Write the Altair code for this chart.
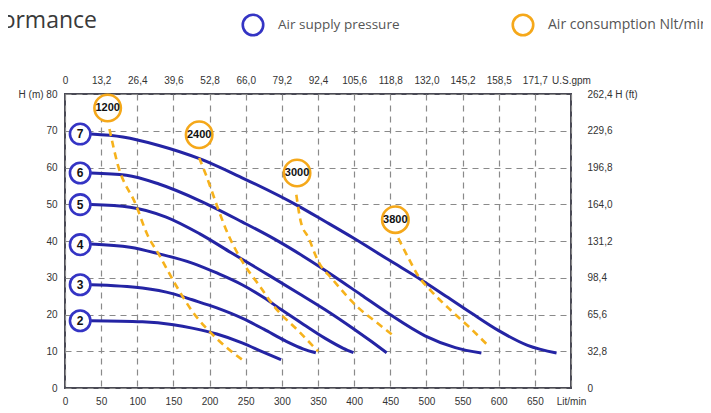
import json
import altair as alt
import pandas as pd

# ---------------- data ----------------
# Air supply pressure curves (bar): flow in Lit/min, head in m
c7_x = [36, 80, 130, 186, 245, 323, 360, 399, 450, 493, 530, 562, 600, 640, 680]
c7_h = [69.1, 68.3, 66.0, 62.4, 57.2, 49.5, 45.3, 40.8, 34.6, 29.4, 24.6, 20.4, 15.6, 11.6, 9.5]
c6_x = [36, 85, 130, 186, 245, 290, 330, 373, 410, 448, 498, 540, 576]
c6_h = [58.5, 57.9, 55.5, 51.0, 45.2, 40.5, 35.8, 30.3, 25.3, 20.2, 14.2, 11.0, 9.5]
c5_x = [36, 90, 140, 186, 230, 275, 323, 360, 400, 425, 445]
c5_h = [49.9, 49.2, 46.5, 42.0, 36.8, 31.5, 25.8, 21.3, 16.0, 12.5, 9.6]
c4_x = [36, 90, 130, 176, 210, 245, 275, 300, 330, 360, 385, 399]
c4_h = [39.2, 38.3, 36.5, 34.0, 31.3, 28.1, 24.6, 21.2, 17.3, 13.5, 10.8, 9.6]
c3_x = [36, 107, 150, 176, 210, 245, 275, 305, 330, 347]
c3_h = [28.1, 27.2, 25.6, 24.0, 21.8, 19.0, 16.0, 12.8, 10.6, 9.6]
c2_x = [36, 107, 150, 176, 210, 245, 275, 299]
c2_h = [18.3, 18.0, 17.2, 16.3, 14.7, 12.3, 9.7, 7.7]

press_labels = ["7", "6", "5", "4", "3", "2"]
press_x = [21, 21, 21, 21, 21, 21]
press_h = [69.1, 58.5, 49.9, 39.0, 28.1, 18.3]

# Air consumption iso-lines (Nlt/min)
a1200_x = [61.5, 73, 98, 114, 130, 153, 176, 209, 248]
a1200_h = [70.5, 60.8, 49.9, 41.7, 36.3, 28.1, 20.9, 13.6, 7.3]
a2400_x = [185.6, 195, 213, 222, 245, 268, 291, 323.5, 350]
a2400_h = [62.6, 58.0, 48.1, 43.5, 34.5, 28.1, 21.8, 15.4, 10.0]
a3000_x = [320, 326, 337, 351, 369.5, 406, 430, 452]
a3000_h = [52.6, 45.4, 40.8, 34.2, 29.7, 21.8, 18.0, 14.6]
a3800_x = [461, 475, 489, 507, 535, 558, 585]
a3800_h = [40.8, 35.4, 30.4, 26.3, 20.9, 16.8, 11.6]

air_labels = ["1200", "2400", "3000", "3800"]
air_x = [59, 185.6, 321, 457]
air_h = [76.2, 68.9, 58.5, 45.8]

# axis labels
x_ticks = [0, 50, 100, 150, 200, 250, 300, 350, 400, 450, 500, 550, 600, 650, 700]
x_labels = ["0", "50", "100", "150", "200", "250", "300", "350", "400", "450",
            "500", "550", "600", "650", "Lit/min"]
gpm_labels = ["0", "13,2", "26,4", "39,6", "52,8", "66,0", "79,2", "92,4", "105,6",
              "118,8", "132,0", "145,2", "158,5", "171,7", "U.S.gpm"]
y_ticks = [0, 10, 20, 30, 40, 50, 60, 70, 80]
m_labels = ["0", "10", "20", "30", "40", "50", "60", "70", "H (m) 80"]
ft_labels = ["0", "32,8", "65,6", "98,4", "131,2", "164,0", "196,8", "229,6", "262,4 H (ft)"]

# ---------------- tables ----------------
curves = {"7": (c7_x, c7_h), "6": (c6_x, c6_h), "5": (c5_x, c5_h),
          "4": (c4_x, c4_h), "3": (c3_x, c3_h), "2": (c2_x, c2_h)}
curve_df = pd.DataFrame([{"bar": k, "X": x, "H": h}
                         for k, (xs_, hs) in curves.items() for x, h in zip(xs_, hs)])
airs = {"1200": (a1200_x, a1200_h), "2400": (a2400_x, a2400_h),
        "3000": (a3000_x, a3000_h), "3800": (a3800_x, a3800_h)}
air_df = pd.DataFrame([{"air": k, "X": x, "H": h}
                       for k, (xs_, hs) in airs.items() for x, h in zip(xs_, hs)])
press_df = pd.DataFrame({"lab": press_labels, "X": press_x, "H": press_h})
bub_df = pd.DataFrame({"lab": air_labels, "X": air_x, "H": air_h})
one = pd.DataFrame({"a": [0]})

BLUE = "#2424a4"
BLUE_C = "#3434c4"
ORANGE = "#f6b21c"
ORANGE_C = "#f5a81a"
FONT = "Liberation Sans"

xs = alt.Scale(domain=[0, 700], nice=False, zero=True)
ys = alt.Scale(domain=[0, 80], nice=False, zero=True)

def lab_expr(labels, step):
    return json.dumps(labels) + "[round(datum.value/" + str(step) + ")]"

common_axis = dict(ticks=False, tickSize=0, domain=False, labelFont=FONT,
                   labelFontSize=10, labelColor="#333", title=None)

bottom_axis = alt.Axis(orient="bottom", values=x_ticks, labelExpr=lab_expr(x_labels, 50),
                       grid=True, gridDash=[6, 5], gridColor="#8a8a8a", gridWidth=1.2,
                       labelPadding=8, labelFlush=False, **common_axis)
left_axis = alt.Axis(orient="left", values=y_ticks, labelExpr=lab_expr(m_labels, 10),
                     grid=True, gridDash=[6, 5], gridColor="#8a8a8a", gridWidth=1.2,
                     labelPadding=8, labelFlush=False, **common_axis)
top_axis = alt.Axis(orient="top", values=x_ticks, labelExpr=lab_expr(gpm_labels, 50),
                    grid=False, labelPadding=9, labelFlush=False, **common_axis)
right_axis = alt.Axis(orient="right", values=y_ticks, labelExpr=lab_expr(ft_labels, 10),
                      grid=False, labelPadding=16, labelFlush=False, labelAlign="left",
                      **common_axis)

blue_lines = alt.Chart(curve_df).mark_line(
    color=BLUE, strokeWidth=3, interpolate="monotone"
).encode(
    x=alt.X("X:Q", scale=xs, axis=bottom_axis),
    y=alt.Y("H:Q", scale=ys, axis=left_axis),
    detail="bar:N",
)

axes2 = alt.Chart(curve_df).mark_point(opacity=0).encode(
    x=alt.X("X:Q", scale=xs, axis=top_axis),
    y=alt.Y("H:Q", scale=ys, axis=right_axis),
)

orange_lines = alt.Chart(air_df).mark_line(
    color=ORANGE, strokeWidth=2.6, strokeDash=[7, 5], interpolate="monotone"
).encode(
    x=alt.X("X:Q", scale=xs, axis=None),
    y=alt.Y("H:Q", scale=ys, axis=None),
    detail="air:N",
)

press_circles = alt.Chart(press_df).mark_point(
    shape="circle", filled=True, fill="white", stroke=BLUE_C, strokeWidth=2.6,
    size=420, opacity=1
).encode(x=alt.X("X:Q", scale=xs, axis=None), y=alt.Y("H:Q", scale=ys, axis=None))

press_text = alt.Chart(press_df).mark_text(
    font=FONT, fontSize=12, fontWeight="bold", color="#111"
).encode(x=alt.X("X:Q", scale=xs, axis=None), y=alt.Y("H:Q", scale=ys, axis=None),
         text="lab:N")

bub_circles = alt.Chart(bub_df).mark_point(
    shape="circle", filled=True, fill="white", stroke=ORANGE_C, strokeWidth=2.6,
    size=700, opacity=1
).encode(x=alt.X("X:Q", scale=xs, axis=None), y=alt.Y("H:Q", scale=ys, axis=None))

bub_text = alt.Chart(bub_df).mark_text(
    font=FONT, fontSize=11, fontWeight="bold", color="#111"
).encode(x=alt.X("X:Q", scale=xs, axis=None), y=alt.Y("H:Q", scale=ys, axis=None),
         text="lab:N")

# title and legend (decorations placed in pixels relative to the plot area)
title = alt.Chart(one).mark_text(
    text="Performance", font="Open Sans", fontSize=23, color="#3a3a3a",
    align="right", baseline="alphabetic"
).encode(x=alt.value(32), y=alt.value(-66))

leg_blue = alt.Chart(one).mark_point(
    shape="circle", filled=False, stroke=BLUE_C, strokeWidth=2.6, size=420, opacity=1
).encode(x=alt.value(188), y=alt.value(-69))
leg_blue_t = alt.Chart(one).mark_text(
    text="Air supply pressure", font="Open Sans", fontSize=13.5, color="#555",
    align="left", baseline="middle"
).encode(x=alt.value(213), y=alt.value(-69))
leg_or = alt.Chart(one).mark_point(
    shape="circle", filled=False, stroke=ORANGE_C, strokeWidth=2.6, size=420, opacity=1
).encode(x=alt.value(458), y=alt.value(-69))
leg_or_t = alt.Chart(one).mark_text(
    text="Air consumption Nlt/min", font="Open Sans", fontSize=14, color="#555",
    align="left", baseline="middle"
).encode(x=alt.value(483), y=alt.value(-69))

chart = alt.layer(
    blue_lines, axes2, orange_lines, press_circles, press_text,
    bub_circles, bub_text, title, leg_blue, leg_blue_t, leg_or, leg_or_t
).resolve_axis(x="independent", y="independent").properties(
    width=506, height=294,
    autosize=alt.AutoSizeParams(type="none"),
    padding={"left": 57, "top": 86, "right": 132, "bottom": 21},
).configure_view(stroke="#4a4a55", strokeWidth=2)

chart.save("out.html", embed_options={"renderer": "svg", "actions": False})
